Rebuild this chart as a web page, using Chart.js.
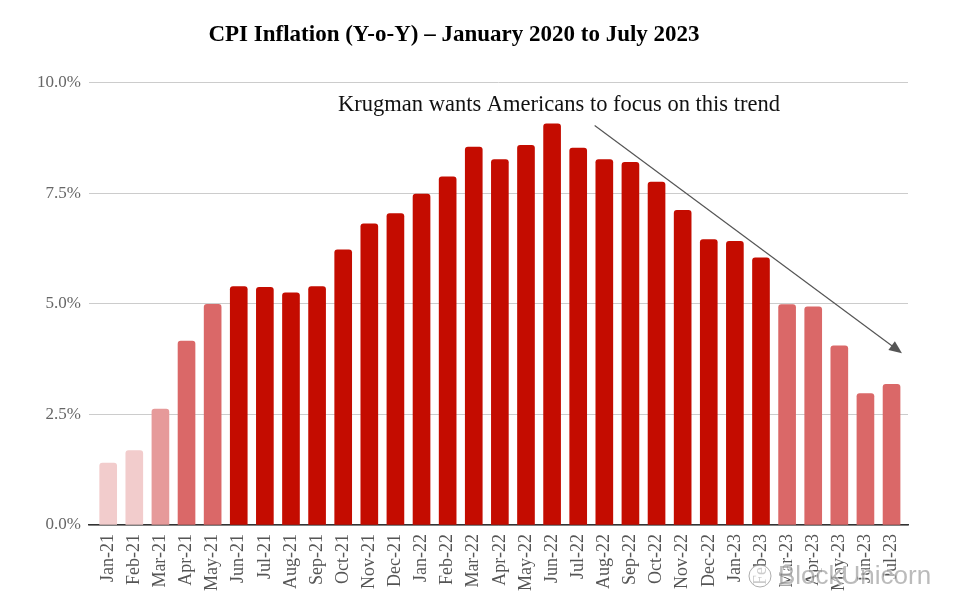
<!DOCTYPE html>
<html>
<head>
<meta charset="utf-8">
<script src="https://cdn.jsdelivr.net/npm/chart.js@4/dist/chart.umd.min.js"></script>
<style>
  html, body { margin: 0; padding: 0; background: #fff; }
  #wrap { width: 963px; height: 615px; }
</style>
</head>
<body>
<div id="wrap"><canvas id="cpiChart"></canvas></div>
<script>
// ========= data =========
const months = [
  "Jan-21","Feb-21","Mar-21","Apr-21","May-21","Jun-21","Jul-21","Aug-21","Sep-21","Oct-21","Nov-21","Dec-21",
  "Jan-22","Feb-22","Mar-22","Apr-22","May-22","Jun-22","Jul-22","Aug-22","Sep-22","Oct-22","Nov-22","Dec-22",
  "Jan-23","Feb-23","Mar-23","Apr-23","May-23","Jun-23","Jul-23"
];
const cpiValues = [
  1.40, 1.68, 2.62, 4.16, 4.99, 5.39, 5.37, 5.25, 5.39, 6.22, 6.81, 7.04,
  7.48, 7.87, 8.54, 8.26, 8.58, 9.07, 8.52, 8.26, 8.20, 7.75, 7.11, 6.45,
  6.41, 6.04, 4.98, 4.93, 4.05, 2.97, 3.18
];
const yTicks = [0, 2.5, 5, 7.5, 10];

const SERIF = '"Liberation Serif", serif';

function barColor(v) {
  if (v < 2) return "#f2cccc";
  if (v < 2.8) return "#e69a9a";
  if (v < 5) return "#da6868";
  return "#c40c00";
}

// ========= annotation + watermark =========
const annotations = {
  id: "annotations",
  afterDatasetsDraw(chart) {
    const { ctx, scales: { x, y } } = chart;
    const x1 = x.getPixelForValue(18.63), y1 = y.getPixelForValue(9.03);
    const x2 = x.getPixelForValue(30.4), y2 = y.getPixelForValue(3.88);
    const ang = Math.atan2(y2 - y1, x2 - x1);

    ctx.save();
    ctx.strokeStyle = ctx.fillStyle = "#555555";
    ctx.lineWidth = 1.2;
    ctx.beginPath();
    ctx.moveTo(x1, y1);
    ctx.lineTo(x2 - 8 * Math.cos(ang), y2 - 8 * Math.sin(ang));
    ctx.stroke();
    ctx.beginPath();
    ctx.moveTo(x2, y2);
    ctx.lineTo(x2 - 14 * Math.cos(ang - 0.4), y2 - 14 * Math.sin(ang - 0.4));
    ctx.lineTo(x2 - 14 * Math.cos(ang + 0.4), y2 - 14 * Math.sin(ang + 0.4));
    ctx.closePath();
    ctx.fill();

    ctx.fillStyle = "#111111";
    ctx.font = "22.5px " + SERIF;
    ctx.textAlign = "center";
    ctx.textBaseline = "middle";
    ctx.fillText("Krugman wants Americans to focus on this trend", 559, 105);

    // watermark over the bottom right labels
    ctx.font = "26px " + '"Liberation Sans", sans-serif';
    ctx.textAlign = "left";
    ctx.lineWidth = 2;
    ctx.strokeStyle = "rgba(255,255,255,0.6)";
    ctx.strokeText("BlockUnicorn", 778, 577);
    ctx.fillStyle = "rgba(120,120,120,0.5)";
    ctx.fillText("BlockUnicorn", 778, 577);
    ctx.lineWidth = 1;
    ctx.strokeStyle = "rgba(140,140,140,0.7)";
    ctx.fillStyle = "rgba(255,255,255,0.7)";
    ctx.beginPath();
    ctx.arc(760, 576, 11, 0, Math.PI * 2);
    ctx.fill();
    ctx.stroke();
    ctx.restore();
  }
};

// ========= chart =========
new Chart(document.getElementById("cpiChart"), {
  type: "bar",
  data: {
    datasets: [{
      data: cpiValues.map((v, i) => ({ x: i, y: v })),
      backgroundColor: cpiValues.map(barColor),
      barThickness: 17,
      borderRadius: { topLeft: 3, topRight: 3, bottomLeft: 0, bottomRight: 0 },
      borderSkipped: false
    }]
  },
  options: {
    responsive: true,
    maintainAspectRatio: false,
    animation: false,
    layout: { padding: { left: 0, right: 55, top: 0, bottom: 0 } },
    plugins: {
      legend: { display: false },
      tooltip: { enabled: false },
      title: {
        display: true,
        text: "CPI Inflation (Y-o-Y) – January 2020 to July 2023",
        color: "#000000",
        font: { family: SERIF, size: 23, weight: "bold" },
        padding: { top: 21, bottom: 34 }
      }
    },
    scales: {
      x: {
        type: "linear",
        offset: false,
        min: -0.735,
        max: 30.63,
        afterBuildTicks: s => { s.ticks = months.map((m, i) => ({ value: i })); },
        afterFit: s => { s.height = 90; },
        grid: { display: false },
        border: { color: "#333333", width: 1.5 },
        ticks: {
          autoSkip: false,
          minRotation: 90,
          maxRotation: 90,
          padding: 1,
          color: "#555555",
          font: { family: SERIF, size: 18 },
          callback: v => months[v]
        }
      },
      y: {
        min: 0,
        max: 10,
        afterBuildTicks: s => { s.ticks = yTicks.map(v => ({ value: v })); },
        afterFit: s => { s.width = 89; },
        grid: { color: "#cccccc", drawTicks: false },
        border: { display: false },
        ticks: {
          padding: 8,
          color: "#666666",
          font: { family: SERIF, size: 17 },
          callback: v => v.toFixed(1) + "%"
        }
      }
    }
  },
  plugins: [annotations]
});
</script>
</body>
</html>
